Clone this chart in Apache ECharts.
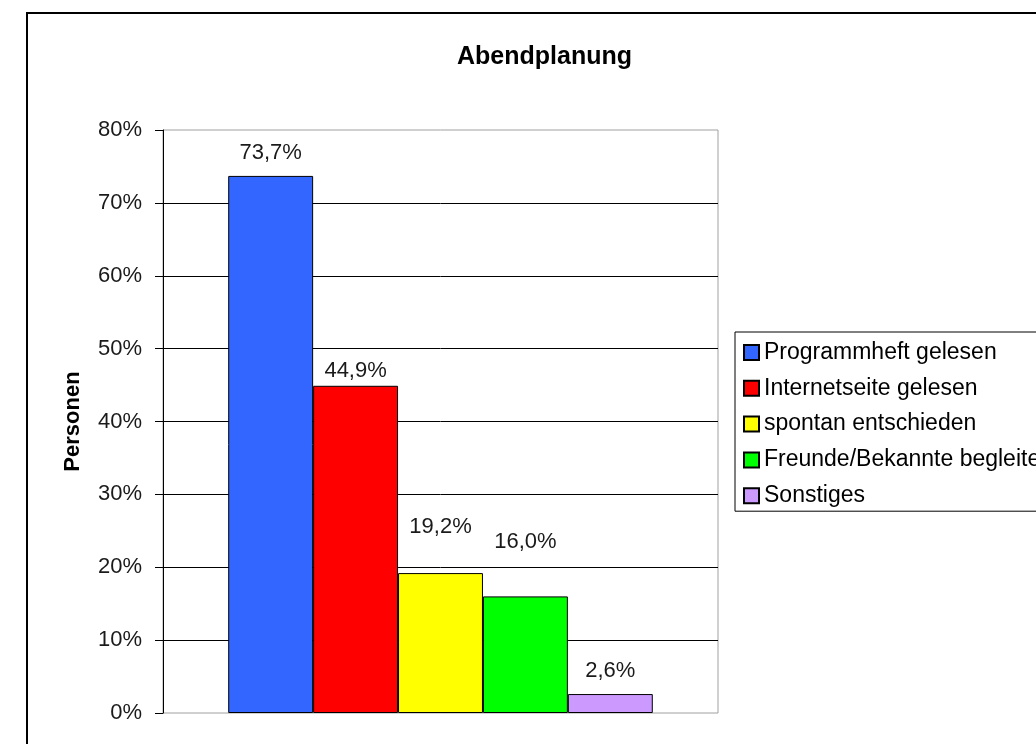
<!DOCTYPE html>
<html>
	<head>
		<meta charset="utf-8">
		<title>Abendplanung</title>
		<script src="https://cdn.jsdelivr.net/npm/echarts@6/dist/echarts.min.js"></script>
		<style>
			html, body {
				margin: 0;
				padding: 0;
				background: #ffffff;
			}
			#main {
				width: 1036px;
				height: 744px;
			}
		</style>
	</head>
	<body>
		<div id="main"></div>
	</body>
	<script>
		// Werte
		var seriesNames = ["Programmheft gelesen", "Internetseite gelesen", "spontan entschieden", "Freunde/Bekannte begleitet", "Sonstiges"];
		var seriesValues = [73.7, 44.9, 19.2, 16.0, 2.6];
		var seriesColors = ["#3366ff", "#ff0000", "#ffff00", "#00ff00", "#cc99ff"];
		var labelDistances = [12, 4, 35, 43, 12];
		var yTicks = [0, 10, 20, 30, 40, 50, 60, 70, 80];

		function fmt(v) {
			return v.toFixed(1).replace(".", ",") + "%";
		}

		var series = [];
		for (let i = 0; i < seriesNames.length; i++) {
			series.push({
				name: seriesNames[i],
				type: "bar",
				data: [seriesValues[i]],
				barGap: "0%",
				barCategoryGap: "23.5%",
				itemStyle: {
					color: seriesColors[i],
					borderColor: "#000",
					borderWidth: 1
				},
				label: {
					show: true,
					position: "top",
					distance: labelDistances[i],
					fontFamily: "Liberation Sans",
					fontSize: 22,
					lineHeight: 22,
					color: "#1a1a1a",
					formatter: function (p) {
						return fmt(p.value);
					}
				}
			});
		}

		let option = {
			animation: false,
			backgroundColor: "#fff",
			textStyle: {
				fontFamily: "Liberation Sans"
			},
			title: {
				text: "Abendplanung",
				left: 457,
				top: 45,
				padding: 0,
				textStyle: {
					fontFamily: "Liberation Sans",
					fontSize: 25,
					fontWeight: "bold",
					color: "#000"
				}
			},
			legend: {
				orient: "vertical",
				left: 735,
				top: 332,
				padding: [9, 20, 4, 8],
				itemGap: 12.8,
				itemWidth: 15,
				itemHeight: 15,
				borderColor: "#000",
				borderWidth: 1,
				backgroundColor: "#fff",
				icon: "rect",
				textStyle: {
					fontFamily: "Liberation Sans",
					fontSize: 23,
					lineHeight: 22,
					color: "#000"
				},
				data: seriesNames
			},
			graphic: [{
				type: "rect",
				shape: { x: 27, y: 13, width: 1100, height: 800 },
				style: { fill: null, stroke: "#000", lineWidth: 2 },
				silent: true
			}],
			grid: {
				left: 163,
				top: 130,
				right: 318,
				bottom: 31,
				show: true,
				borderColor: "#a0a0a0",
				borderWidth: 1,
				backgroundColor: "transparent",
				containLabel: false
			},
			xAxis: {
				type: "category",
				data: [""],
				axisLine: { show: false },
				axisTick: { show: false },
				axisLabel: { show: false },
				splitLine: { show: false }
			},
			yAxis: {
				type: "value",
				min: yTicks[0],
				max: yTicks[yTicks.length - 1],
				interval: 10,
				name: "Personen",
				nameLocation: "middle",
				nameGap: 79,
				nameTextStyle: {
					fontFamily: "Liberation Sans",
					fontSize: 22,
					fontWeight: "bold",
					color: "#000"
				},
				axisLine: {
					show: true,
					lineStyle: { color: "#000", width: 1 }
				},
				axisTick: {
					show: true,
					inside: false,
					length: 8,
					lineStyle: { color: "#000", width: 1 }
				},
				axisLabel: {
					margin: 21,
					fontFamily: "Liberation Sans",
					fontSize: 22,
					color: "#1a1a1a",
					formatter: function (v) {
						return v + "%";
					}
				},
				splitLine: {
					show: true,
					showMinLine: false,
					showMaxLine: false,
					lineStyle: { color: "#000", width: 1 }
				}
			},
			series: series
		};

		let echart = echarts.init(document.getElementById("main"));
		echart.setOption(option);
	</script>
</html>
